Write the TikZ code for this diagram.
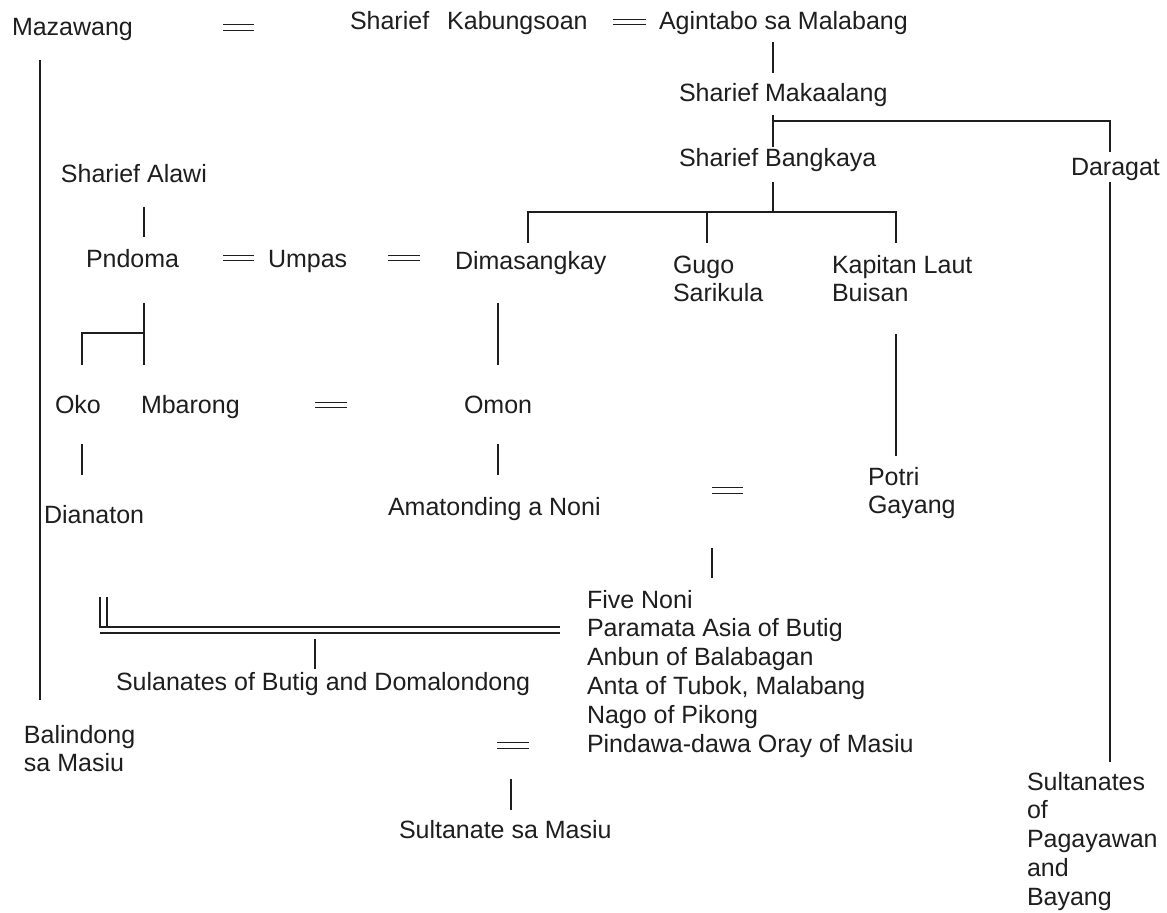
\documentclass[tikz,border=0pt]{standalone}
\usepackage{fontspec}
\setmainfont{Liberation Sans}
\definecolor{ink}{RGB}{30,30,30}
\newcommand{\mlines}[1]{\begin{tabular}[t]{@{}l@{}}#1\end{tabular}}
\begin{document}
\begin{tikzpicture}[x=0.5pt,y=-0.5pt,
  person/.style={inner sep=0pt, outer sep=0pt, anchor=base west,
    font=\fontsize{12.5}{14.4}\selectfont, text=ink},
  ln/.style={draw=ink, line width=0.65pt},
  eq/.style={draw=ink, line width=0.65pt, double, double distance=2.1pt}]
\useasboundingbox (0,0) rectangle (1167,912);
\fill[white] (0,0) rectangle (1167,912);

% people / texts
\node[person] (maz) at (12,35) {Mazawang};
\node[person] (kab) at (350,29) {Sharief\hspace{9pt}Kabungsoan};
\node[person] (agi) at (659,29) {Agintabo sa Malabang};
\node[person] (mak) at (679,101) {Sharief Makaalang};
\node[person] (ban) at (679,166) {Sharief Bangkaya};
\node[person] (dar) at (1071,175) {Daragat};
\node[person] (ala) at (61,182) {Sharief Alawi};
\node[person] (pnd) at (86,267) {Pndoma};
\node[person] (ump) at (268,267) {Umpas};
\node[person] (dim) at (455,269) {Dimasangkay};
\node[person] (gug) at (673,273) {\mlines{Gugo\\Sarikula}};
\node[person] (kap) at (832,273) {\mlines{Kapitan Laut\\Buisan}};
\node[person] (oko) at (55,413) {Oko};
\node[person] (mba) at (141,413) {Mbarong};
\node[person] (omo) at (464,413) {Omon};
\node[person] (dia) at (44,523) {Dianaton};
\node[person] (ama) at (388,515) {Amatonding a Noni};
\node[person] (pot) at (868,485) {\mlines{Potri\\Gayang}};
\node[person] (fiv) at (587,608) {\mlines{Five Noni\\Paramata Asia of Butig\\Anbun of Balabagan\\Anta of Tubok, Malabang\\Nago of Pikong\\Pindawa-dawa Oray of Masiu}};
\node[person] (sul) at (116,690) {Sulanates of Butig and Domalondong};
\node[person] (bal) at (24,743) {\mlines{Balindong\\sa Masiu}};
\node[person] (sma) at (399,838) {Sultanate sa Masiu};
\node[person] (spb) at (1027,790) {\mlines{Sultanates\\of\\Pagayawan\\and\\Bayang}};

% marriage signs
\draw[eq] (223,27.5) -- (254,27.5);
\draw[eq] (613,22) -- (646,22);
\draw[eq] (223,258) -- (254,258);
\draw[eq] (388,258) -- (420,258);
\draw[eq] (315,405) -- (347,405);
\draw[eq] (712,490.5) -- (743,490.5);
\draw[eq] (497,745.5) -- (529,745.5);

% descent lines
\coordinate (a1) at (773,42);   \coordinate (a2) at (773,73);
\draw[ln] (a1) -- (a2);
\coordinate (m1) at (773,115);  \coordinate (m2) at (773,147);
\coordinate (mj) at (773,121);  \coordinate (mr) at (1110,121);
\coordinate (mr2) at (1110,152);
\draw[ln] (m1) -- (m2);
\draw[ln] (mj) -- (mr) -- (mr2);
\coordinate (b1) at (773,182);  \coordinate (bj) at (773,212);
\coordinate (bl) at (528,212);  \coordinate (br) at (896,212);
\draw[ln] (b1) -- (bj);
\draw[ln] (528,243) -- (bl) -- (br) -- (896,243);
\draw[ln] (707,212) -- (707,243);
\coordinate (d1) at (1110,182); \coordinate (d2) at (1110,762);
\draw[ln] (d1) -- (d2);
\coordinate (z1) at (40,60);    \coordinate (z2) at (40,700);
\draw[ln] (z1) -- (z2);
\draw[ln] (144,207) -- (144,237);
\draw[ln] (144,303) -- (144,365);
\draw[ln] (144,333) -- (82,333) -- (82,365);
\draw[ln] (498,303) -- (498,365);
\draw[ln] (82,444) -- (82,475);
\draw[ln] (498,444) -- (498,475);
\draw[ln] (896,334) -- (896,456);
\draw[ln] (712,548) -- (712,578);
% double line to the Five Noni
\draw[ln] (107,597) -- (107,627);
\draw[ln] (100,597) -- (100,627) -- (560,627);
\draw[ln] (100,633) -- (560,633);
\draw[ln] (315,639) -- (315,669);
\draw[ln] (511,779) -- (511,810);
\end{tikzpicture}
\end{document}
